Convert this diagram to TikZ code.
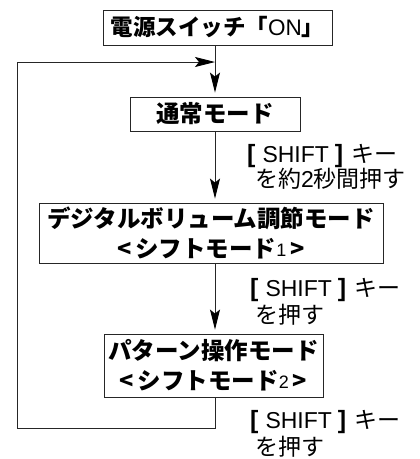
\documentclass[tikz,border=0pt]{standalone}
\usepackage{fontspec}
\setmainfont{Liberation Sans}
\newfontfamily\jp{Noto Sans CJK JP}
\usetikzlibrary{arrows.meta}
\tikzset{
  box/.style={draw=black!85, line width=0.9pt, inner sep=0pt, align=center, font=\jp\bfseries\fontsize{23.5}{30}\selectfont},
  conn/.style={draw=black!85, line width=0.9pt},
  arr/.style={conn, -{Stealth[length=20pt,width=10pt,inset=4pt,black]}},
  lbl/.style={anchor=west, inner sep=0pt, align=left, font=\fontsize{23}{25}\selectfont},
}
\newcommand{\lat}[1]{{\fontspec{Liberation Sans}\mdseries #1}}
\newcommand{\shiftkey}{{\bfseries\fontsize{25}{25}\selectfont[}\hspace{7pt}SHIFT\hspace{6pt}{\bfseries\fontsize{25}{25}\selectfont]}\hspace{8pt}{\jp キー}}
\begin{document}
\begin{tikzpicture}[x=1pt,y=-1pt]
\useasboundingbox (0,0) rectangle (420,459);
\node[box, font=\jp\bfseries\fontsize{22.5}{30}\selectfont, minimum width=229pt, minimum height=35pt] (b1) at (217.5,27.5) {電源スイッチ「\lat{ON}」};
\node[box, minimum width=170pt, minimum height=34pt] (b2) at (215,114) {通常モード};
\node[box, minimum width=344pt, minimum height=60pt] (b3) at (211,233) {デジタルボリューム調節モード\\<\,シフトモード{\fontsize{18}{20}\selectfont\lat{\raisebox{1pt}{1}}}\,>};
\node[box, minimum width=219pt, minimum height=63pt] (b4) at (213.5,365.5) {パターン操作モード\\<\,シフトモード{\fontsize{18}{20}\selectfont\lat{\raisebox{1pt}{2}}}\,>};
\coordinate (ltop) at (17,62);
\coordinate (lbot) at (17,428);
\draw[arr, shorten >=4pt] (b1.south -| b2.south) -- (b2.north);
\draw[arr, shorten >=4pt] (b2.south) -- (b3.north -| b2.south);
\draw[arr, shorten >=4pt] (b3.south -| b2.south) -- (b4.north -| b2.south);
\draw[conn] (b4.south -| b2.south) |- (lbot) -- (ltop);
\draw[arr] (ltop) -- (ltop -| b2.south);
\node[lbl] (l1a) at (247,156) {\shiftkey};
\node[lbl] (l1b) at (255,179) {{\jp を約}2{\jp 秒間押す}};
\node[lbl] (l2a) at (250,290) {\shiftkey};
\node[lbl] (l2b) at (255,315) {{\jp を押す}};
\node[lbl] (l3a) at (250,422) {\shiftkey};
\node[lbl] (l3b) at (255,447) {{\jp を押す}};
\end{tikzpicture}
\end{document}
